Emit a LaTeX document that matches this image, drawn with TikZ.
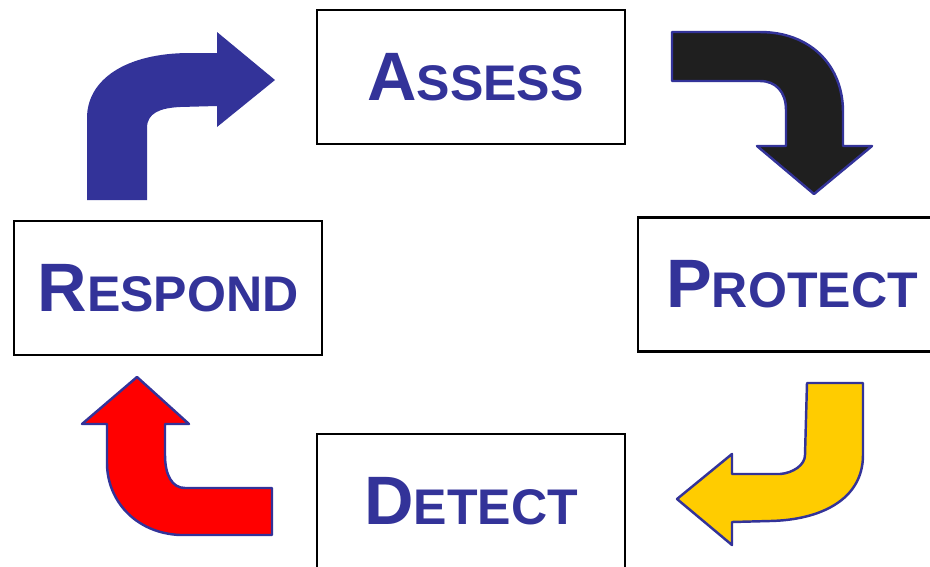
\documentclass[tikz,border=0pt]{standalone}
\usepackage{fontspec}
\setmainfont{Liberation Sans}
\usepackage{tikz}

\definecolor{navy}{RGB}{51,51,153}
\definecolor{ink}{RGB}{31,31,31}
\definecolor{gold}{RGB}{255,204,0}
\definecolor{bred}{RGB}{255,0,0}

\newcommand{\capword}[2]{{\fontsize{39}{39}\selectfont #1}{\fontsize{28.5}{29}\selectfont #2}}

\tikzset{
    stage/.style={draw,line width=1.6pt,minimum width=6.16cm,minimum height=2.68cm,
        inner sep=0pt,text=navy,font=\bfseries},
    turn/.style={line width=1.4pt,draw=navy,line join=round}
}

\begin{document}
\begin{tikzpicture}[x=0.02cm,y=-0.02cm]
    \useasboundingbox (0,0) rectangle (930,566);
    \clip (0,0) rectangle (930,566);

    \node[stage] (1) at (471,77) {\hspace{5pt}\capword{A}{SSESS}};
    \node[stage] (2) at (792,284.5) {\capword{P}{ROTECT}};
    \node[stage] (3) at (471,501) {\capword{D}{ETECT}};
    \node[stage] (4) at (168,288) {\capword{R}{ESPOND}};

    \fill[navy] (87,200) -- (87,118) .. controls (87,80) and (125,53) .. (190,53)
        -- (217,53) -- (217,32) -- (275,80) -- (217,127) -- (217,106) -- (180,107)
        .. controls (160,108) and (147,113) .. (147,128) -- (147,200) -- cycle;
    \filldraw[turn,fill=ink] (672,32) -- (760,32) .. controls (810,32) and (843,65) .. (843,112)
        -- (843,146) -- (872,146) -- (814,194) -- (757,146) -- (786,146) -- (786,110)
        .. controls (786,92) and (776,81) .. (760,81) -- (672,81) -- cycle;
    \filldraw[turn,fill=gold] (807,383) -- (863,383) -- (863,455)
        .. controls (863,500) and (820,520) .. (770,521) -- (732,522) -- (732,545)
        -- (677,499) -- (732,454) -- (732,474) -- (780,474)
        .. controls (793,473) and (805,465) .. (805,455) -- cycle;
    \filldraw[turn,fill=bred] (137,377) -- (189,424) -- (165,424) -- (165,455)
        .. controls (165,475) and (172,488) .. (185,488) -- (272,488) -- (272,535)
        -- (180,535) .. controls (135,533) and (107,500) .. (107,463) -- (107,424)
        -- (82,424) -- cycle;
\end{tikzpicture}
\end{document}
